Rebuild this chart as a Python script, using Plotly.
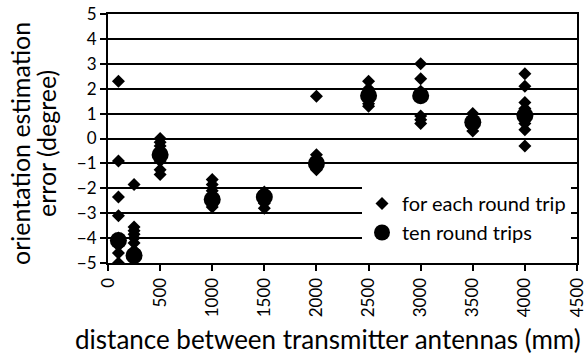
import plotly.graph_objects as go

# distance (mm) for each individual round trip, and the estimation error (degree)
trip_x = [100]*8 + [250]*8 + [500]*8 + [1000]*7 + [1500]*5 + [2000]*6 + [2500]*6 + [3000]*6 + [3500]*5 + [4000]*9
trip_y = [2.3, -0.9, -2.35, -3.1, -4.0, -4.3, -4.6, -5.0,
          -1.85, -3.55, -3.7, -3.85, -4.0, -4.2, -4.5, -4.7,
          0.0, -0.15, -0.3, -0.45, -0.6, -0.9, -1.25, -1.45,
          -1.65, -1.85, -2.1, -2.3, -2.45, -2.6, -2.75,
          -2.15, -2.3, -2.45, -2.6, -2.8,
          1.7, -0.65, -0.8, -0.95, -1.1, -1.25,
          2.3, 2.0, 1.8, 1.6, 1.4, 1.3,
          3.0, 2.4, 1.9, 0.9, 0.75, 0.6,
          1.0, 0.8, 0.6, 0.45, 0.3,
          2.6, 2.1, 1.45, 1.2, 1.0, 0.8, 0.6, 0.35, -0.3]

# ten round trips
ten_x = [100, 250, 500, 1000, 1500, 2000, 2500, 3000, 3500, 4000]
ten_y = [-4.1, -4.7, -0.65, -2.45, -2.35, -1.0, 1.72, 1.72, 0.65, 0.92]

x_title = "distance between transmitter antennas (mm)"
y_title_1 = "orientation estimation"
y_title_2 = "error (degree)"

font = "Lato"
W, H = 586, 358
L, R, T, B = 108, 9, 14, 95

fig = go.Figure()
fig.add_trace(go.Scatter(x=trip_x, y=trip_y, mode="markers", name="for each round trip",
                         marker=dict(symbol="diamond", size=10, color="black")))
fig.add_trace(go.Scatter(x=ten_x, y=ten_y, mode="markers", name="ten round trips",
                         marker=dict(symbol="circle", size=17, color="black")))

pw = W - L - R
ph = H - T - B
def px_x(p):
    return (p - L) / pw
def px_y(p):
    return (H - B - p) / ph

fig.update_layout(
    width=W, height=H,
    margin=dict(l=L, r=R, t=T, b=B, autoexpand=False),
    plot_bgcolor="white", paper_bgcolor="white",
    font=dict(family=font, color="black", size=17),
    showlegend=True,
    legend=dict(x=px_x(362), y=px_y(184), xanchor="left", yanchor="top", bgcolor="white",
                font=dict(size=20, family=font), itemsizing="trace",
                tracegroupgap=0, itemwidth=30),
    xaxis=dict(range=[0, 4500], dtick=500, tick0=0, showgrid=False, automargin=False,
               showline=True, linecolor="black", linewidth=2, mirror=True,
               ticks="outside", ticklen=6, tickwidth=2, tickcolor="black",
               tickangle=-90, tickfont=dict(size=17), ticklabeloverflow="allow"),
    yaxis=dict(range=[-5, 5], dtick=1, showgrid=True, gridcolor="black", gridwidth=2,
               automargin=False,
               zeroline=True, zerolinecolor="black", zerolinewidth=2,
               showline=True, linecolor="black", linewidth=2, mirror=True,
               ticks="outside", ticklen=6, tickwidth=2, tickcolor="black",
               tickfont=dict(size=17)),
    annotations=[
        dict(text=x_title, xref="paper", yref="paper", x=px_x(328), y=px_y(339),
             xanchor="center", yanchor="middle", showarrow=False, font=dict(size=26)),
        dict(text=y_title_1, xref="paper", yref="paper", x=px_x(20), y=px_y(144),
             xanchor="center", yanchor="middle", showarrow=False, textangle=-90,
             font=dict(size=25)),
        dict(text=y_title_2, xref="paper", yref="paper", x=px_x(46), y=px_y(144),
             xanchor="center", yanchor="middle", showarrow=False, textangle=-90,
             font=dict(size=25)),
    ],
)
fig.write_html("out.html", config={"displayModeBar": False},
               post_script="document.body.style.margin='0';document.body.style.overflow='hidden';")
